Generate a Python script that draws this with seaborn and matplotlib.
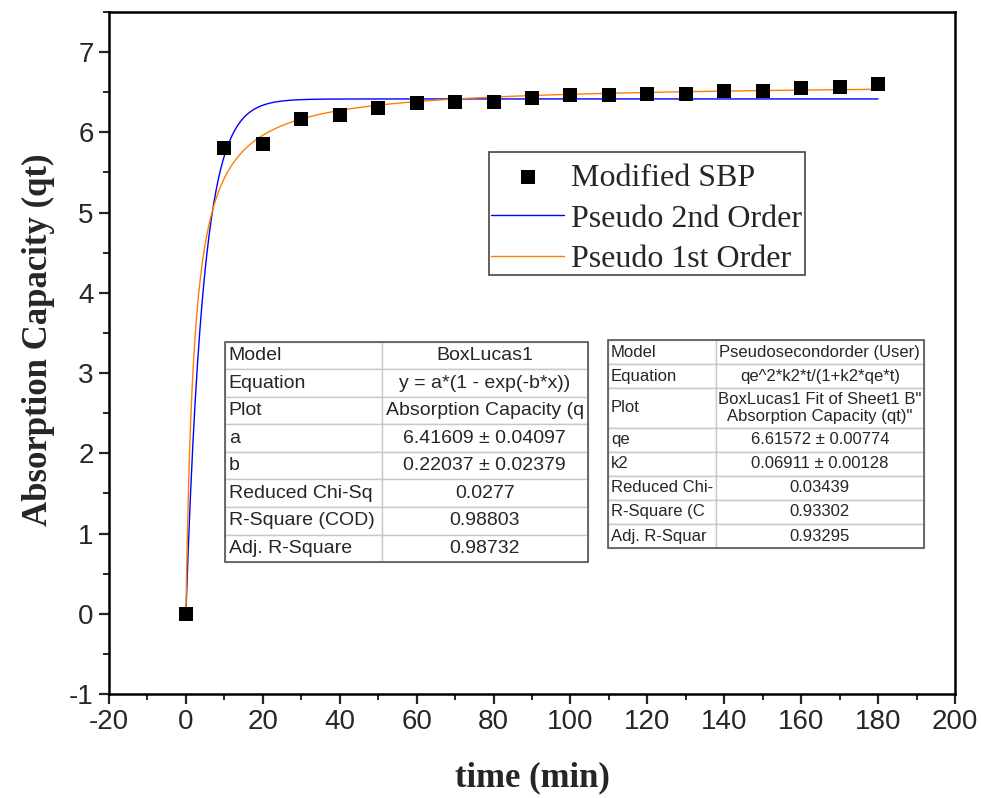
import numpy as np
import pandas as pd
import matplotlib
matplotlib.use("Agg")
import matplotlib.pyplot as plt
import seaborn as sns
from matplotlib.ticker import MultipleLocator
from matplotlib.patches import Rectangle

time_min = [0, 10, 20, 30, 40, 50, 60, 70, 80, 90, 100, 110, 120, 130, 140, 150, 160, 170, 180]
qt = [0.0, 5.81, 5.85, 6.17, 6.22, 6.30, 6.37, 6.38, 6.38, 6.43, 6.46, 6.46, 6.48, 6.48,
      6.52, 6.51, 6.55, 6.57, 6.60]

# fitted parameters as printed in the two tables
a_box, b_box = 6.41609, 0.22037
qe_fit, k2_fit = 6.61572, 0.06911

left_rows = [
    ["Model", "BoxLucas1"],
    ["Equation", "y = a*(1 - exp(-b*x))"],
    ["Plot", "Absorption Capacity (q"],
    ["a", "6.41609 \u00b1 0.04097"],
    ["b", "0.22037 \u00b1 0.02379"],
    ["Reduced Chi-Sq", "0.0277"],
    ["R-Square (COD)", "0.98803"],
    ["Adj. R-Square", "0.98732"],
]
right_rows = [
    ["Model", "Pseudosecondorder (User)"],
    ["Equation", "qe^2*k2*t/(1+k2*qe*t)"],
    ["Plot", "BoxLucas1 Fit of Sheet1 B\"\nAbsorption Capacity (qt)\""],
    ["qe", "6.61572 \u00b1 0.00774"],
    ["k2", "0.06911 \u00b1 0.00128"],
    ["Reduced Chi-", "0.03439"],
    ["R-Square (C", "0.93302"],
    ["Adj. R-Squar", "0.93295"],
]

# fitted curves evaluated from the table parameters
t_fit = np.linspace(0, 180, 600)
fit_df = pd.DataFrame({
    "t": t_fit,
    "box": a_box * (1 - np.exp(-b_box * t_fit)),
    "pso": qe_fit ** 2 * k2_fit * t_fit / (1 + k2_fit * qe_fit * t_fit),
})
pts = pd.DataFrame({"t": time_min, "qt": qt})

sns.set_style("ticks")
plt.rcParams["font.family"] = ["Liberation Sans", "DejaVu Sans"]
plt.rcParams["axes.unicode_minus"] = False

fig = plt.figure(figsize=(9.81, 7.98), dpi=100)
ax = fig.add_axes([0.1111, 0.1303, 0.8624, 0.8547])

sns.lineplot(data=fit_df, x="t", y="box", ax=ax, color="#0000ff", lw=1.0,
             label="Pseudo 2nd Order", zorder=2)
sns.lineplot(data=fit_df, x="t", y="pso", ax=ax, color="#ff8000", lw=1.0,
             label="Pseudo 1st Order", zorder=3)
sns.scatterplot(data=pts, x="t", y="qt", ax=ax, marker="s", s=105, color="black",
                edgecolor="black", linewidth=0, label="Modified SBP", zorder=4)

ax.set_xlim(-20, 200)
ax.set_ylim(-1, 7.5)
ax.xaxis.set_major_locator(MultipleLocator(20))
ax.xaxis.set_minor_locator(MultipleLocator(10))
ax.yaxis.set_major_locator(MultipleLocator(1))
ax.yaxis.set_minor_locator(MultipleLocator(0.5))
ax.tick_params(which="major", direction="out", length=7, width=1.6, labelsize=20, pad=4)
ax.tick_params(which="minor", direction="out", length=4, width=1.4)
for sp in ax.spines.values():
    sp.set_visible(True)
    sp.set_linewidth(1.8)
    sp.set_color("black")

ax.set_xlabel("time (min)", fontsize=25, fontweight="bold", family="Liberation Serif", labelpad=19)
ax.set_ylabel("Absorption Capacity (qt)", fontsize=25, fontweight="bold", family="Liberation Serif", labelpad=10)
ax.yaxis.label.set_y(0.52)

# legend without its own frame; the box is drawn separately to match the original spacing
handles, labels = ax.get_legend_handles_labels()
order = [labels.index(l) for l in ["Modified SBP", "Pseudo 2nd Order", "Pseudo 1st Order"]]
leg = ax.legend([handles[i] for i in order], [labels[i] for i in order],
                loc="upper left", bbox_to_anchor=(0.4515, 0.778), frameon=False,
                prop={"family": "Liberation Serif", "size": 23}, handlelength=2.3,
                handletextpad=0.2, borderpad=0, borderaxespad=0, labelspacing=0.36)
ax.add_patch(Rectangle((0.449, 0.6144), 0.3735, 0.1804, transform=ax.transAxes,
                       fill=False, edgecolor="#444444", lw=1.2, zorder=10))


def draw_table(rows, bbox, col0, fsize, tall_row=None):
    tbl = ax.table(cellText=rows, cellLoc="center", colWidths=[col0, 1 - col0], bbox=bbox)
    tbl.auto_set_font_size(False)
    tbl.set_fontsize(fsize)
    for (r, c), cell in tbl.get_celld().items():
        cell.set_edgecolor("#c8c8c8")
        cell.set_linewidth(1.0)
        cell.set_facecolor("white")
        if c == 0:
            cell.get_text().set_horizontalalignment("left")
            cell.PAD = 0.025
        if tall_row is not None and r == tall_row:
            cell.set_height(cell.get_height() * 1.65)
    ax.add_patch(Rectangle((bbox[0], bbox[1]), bbox[2], bbox[3], transform=ax.transAxes,
                           fill=False, edgecolor="#555555", lw=1.2, zorder=10))
    return tbl


draw_table(left_rows, [0.137, 0.1935, 0.429, 0.323], 0.432, 14)
draw_table(right_rows, [0.590, 0.214, 0.373, 0.305], 0.342, 12, tall_row=2)

fig.savefig("out.png", dpi=100)
